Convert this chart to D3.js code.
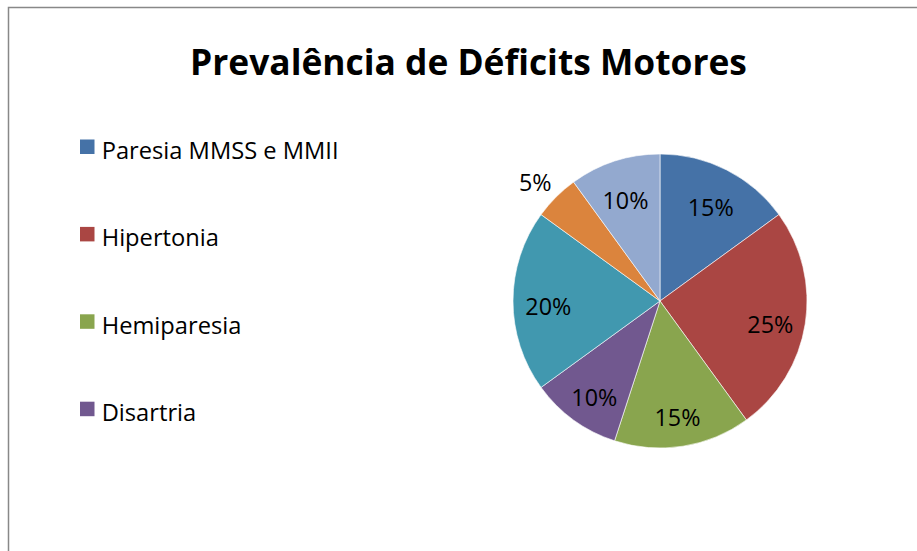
<!DOCTYPE html>
<head>
  <meta charset="utf-8">
  <script src="https://d3js.org/d3.v7.min.js"></script>
  <style>
    body { margin:0; background:#fff; }
    text { font-family: "Open Sans", "Noto Sans", sans-serif; fill:#000; }
  </style>
</head>
<body>
<svg width="917" height="551"></svg>
<script>

const categories = ["Paresia MMSS e MMII", "Hipertonia", "Hemiparesia", "Disartria", "Categoria 5", "Categoria 6", "Categoria 7"]
const values     = [15, 25, 15, 10, 20, 5, 10]
const colors     = ["#4572A7", "#AA4643", "#89A54E", "#71588F", "#4198AF", "#DB843D", "#93A9CF"]
const legendShown = 4   // the legend box only has room for the first four entries

const svg = d3.select("svg")

// chart frame (runs off the right/bottom edge)
svg.append("rect")
    .attr("x", 8.5).attr("y", 7.5)
    .attr("width", 1000).attr("height", 1000)
    .attr("fill", "#fff")
    .attr("stroke", "#888").attr("stroke-width", 1.5)

// shrink/grow a text node so its width matches the reference
function fit(sel, target) {
  const w = sel.node().getComputedTextLength()
  const fs = parseFloat(sel.attr("font-size"))
  const nfs = fs * target / w
  sel.attr("font-size", nfs)
  return nfs
}

const title = svg.append("text")
    .attr("x", 468.5).attr("y", 75)
    .attr("text-anchor", "middle")
    .attr("font-weight", "bold")
    .attr("font-size", 36)
    .text("Prevalência de Déficits Motores")
fit(title, 557)

// legend
const legend = svg.append("g")
const rows = legend.selectAll("g")
  .data(categories.slice(0, legendShown))
  .enter().append("g")
    .attr("transform", (d, i) => `translate(0,${159 + i * 87.4})`)

rows.append("rect")
    .attr("x", 80).attr("y", -19.5)
    .attr("width", 14.5).attr("height", 14.5)
    .attr("fill", (d, i) => colors[i])

const legendText = rows.append("text")
    .attr("x", 101.7).attr("y", 0)
    .attr("font-size", 20)
    .text(d => d)
const lfs = fit(d3.select(legendText.nodes()[0]), 237)
legendText.attr("font-size", lfs)

// pie
const cx = 660, cy = 301, r = 147
const pie = d3.pie().sort(null).value(d => d)
const arcs = pie(values)
const arc = d3.arc().innerRadius(0).outerRadius(r)
const inLabel = d3.arc().innerRadius(r * 0.76).outerRadius(r * 0.76)
const outLabel = d3.arc().innerRadius(r * 1.2).outerRadius(r * 1.2)

const g = svg.append("g").attr("transform", `translate(${cx},${cy})`)

g.selectAll("path")
  .data(arcs)
  .enter().append("path")
    .attr("d", arc)
    .attr("fill", (d, i) => colors[i])
    .attr("stroke", "#fff")
    .attr("stroke-width", 0.6)

const total = d3.sum(values)
const labels = g.selectAll(".lbl")
  .data(arcs)
  .enter().append("text")
    .attr("class", "lbl")
    .attr("transform", d => {
      const p = (d.value / total < 0.06 ? outLabel : inLabel).centroid(d)
      return `translate(${p[0]},${p[1] + 6})`
    })
    .attr("text-anchor", "middle")
    .attr("dy", "0.36em")
    .attr("font-size", 20)
    .text(d => Math.round(d.value / total * 100) + "%")
const pfs = fit(d3.select(labels.nodes()[0]), 46)
labels.attr("font-size", pfs)

</script>
</body>
